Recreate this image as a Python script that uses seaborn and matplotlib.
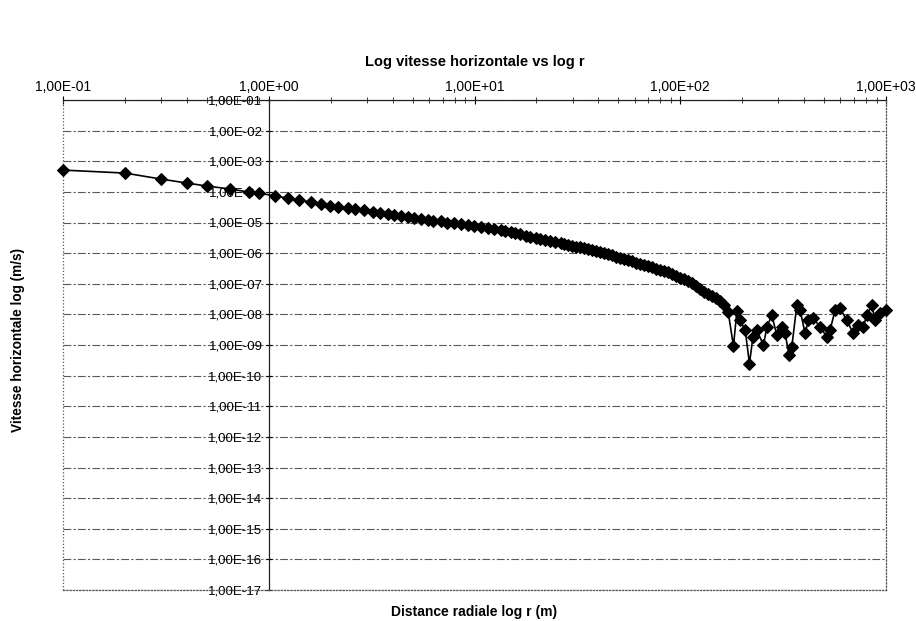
import matplotlib
matplotlib.use("Agg")
import matplotlib.pyplot as plt
import matplotlib.ticker as mticker
import numpy as np
import pandas as pd
import seaborn as sns

# Radial distance (m) and horizontal velocity (m/s)
r_m = [
    0.1, 0.2, 0.3, 0.4, 0.5, 0.65, 0.8, 0.9, 1.07, 1.24, 1.41, 1.60, 1.79, 1.98, 2.16,
    2.42, 2.64, 2.89, 3.20, 3.46, 3.78, 4.04, 4.37, 4.73, 5.06, 5.47, 5.91, 6.32, 6.84,
    7.39, 7.91, 8.55, 9.25, 9.89, 10.7, 11.6, 12.4, 13.4,
    14.1, 15.0, 15.8, 16.7, 17.7, 18.7, 19.8, 20.9, 22.1, 23.4, 24.7, 26.2,
    27.35, 28.60, 29.91, 31.28, 32.71, 34.20, 35.77, 37.40, 39.11, 40.90,
    42.77, 44.72, 46.77, 48.90, 51.14, 53.48, 55.92, 58.48, 61.15, 63.95,
    66.87, 69.93, 73.13, 76.47, 79.96, 83.62, 87.44, 91.43, 95.61, 100.0,
    104.6, 109.3, 114.3, 119.5, 125.0, 130.7, 136.7, 142.9, 149.5, 156.3,
    163.4, 170.9,
    181.4, 188.5, 195.6, 206.8, 217.0, 225.4, 235.7, 253.8, 263.6, 278.7,
    294.7, 311.6, 323.4, 338.1, 348.5, 368.6, 382.4, 404.5, 419.7, 443.7,
    478.2, 515.3, 534.8, 565.5, 598.0, 644.6, 693.9, 733.9, 776.1, 806.1,
    852.4, 884.5, 935.2, 1000.0,
]
v_ms = [
    5.15e-4, 4.11e-4, 2.62e-4, 1.94e-4, 1.55e-4, 1.24e-4, 9.85e-5, 9.14e-5, 7.30e-5,
    6.27e-5, 5.39e-5, 4.64e-5, 3.99e-5, 3.52e-5, 3.26e-5,
    2.93e-5, 2.68e-5, 2.47e-5, 2.24e-5, 2.07e-5, 1.90e-5, 1.79e-5, 1.66e-5, 1.54e-5,
    1.44e-5, 1.33e-5, 1.24e-5, 1.16e-5, 1.08e-5, 1.00e-5, 9.35e-6, 8.67e-6, 8.04e-6,
    7.57e-6, 7.02e-6, 6.51e-6, 6.08e-6, 5.65e-6,
    5.20e-6, 4.79e-6, 4.41e-6, 4.08e-6, 3.76e-6, 3.46e-6, 3.18e-6, 2.93e-6, 2.70e-6,
    2.48e-6, 2.31e-6, 2.12e-6,
    1.98e-6, 1.87e-6, 1.75e-6, 1.63e-6, 1.54e-6, 1.44e-6, 1.34e-6, 1.26e-6, 1.18e-6,
    1.10e-6, 1.01e-6, 9.21e-7, 8.41e-7, 7.68e-7, 7.02e-7, 6.41e-7, 5.86e-7, 5.35e-7,
    4.89e-7, 4.47e-7, 4.08e-7, 3.73e-7, 3.41e-7, 3.11e-7, 2.84e-7, 2.60e-7, 2.38e-7,
    2.07e-7, 1.81e-7, 1.58e-7, 1.38e-7, 1.21e-7, 1.05e-7, 8.47e-8, 6.56e-8, 5.24e-8,
    4.54e-8, 3.93e-8, 3.44e-8, 2.78e-8, 2.04e-8, 1.23e-8,
    9.14e-10, 1.30e-8, 6.46e-9, 3.05e-9, 2.48e-10, 1.76e-9, 3.05e-9, 9.85e-10, 3.91e-9,
    9.41e-9, 2.09e-9, 3.91e-9, 2.38e-9, 4.64e-10, 8.67e-10, 2.00e-8, 1.37e-8, 2.38e-9,
    6.46e-9, 7.35e-9, 3.91e-9, 1.84e-9, 3.05e-9, 1.37e-8, 1.56e-8, 6.46e-9, 2.38e-9,
    4.44e-9, 3.91e-9, 9.41e-9, 2.00e-8, 6.46e-9, 1.07e-8, 1.37e-8,
]

x_decades = [1e-1, 1e0, 1e1, 1e2, 1e3]
y_decades = [1e-17, 1e-16, 1e-15, 1e-14, 1e-13, 1e-12, 1e-11, 1e-10, 1e-9,
             1e-8, 1e-7, 1e-6, 1e-5, 1e-4, 1e-3, 1e-2, 1e-1]

title = "Log vitesse horizontale vs log r"
x_label = "Distance radiale log r (m)"
y_label = "Vitesse horizontale log (m/s)"

sns.set_theme(style="white")
plt.rcParams["font.family"] = ["Liberation Sans", "DejaVu Sans"]

fig = plt.figure(figsize=(9.16, 6.21), dpi=100)
ax = fig.add_axes([63 / 916, 31 / 621, 823 / 916, 490 / 621])

df = pd.DataFrame({"r": r_m, "v": v_ms})
sns.lineplot(data=df, x="r", y="v", ax=ax, color="black", linewidth=1.2,
             marker="D", markersize=6.3, markeredgecolor="black",
             markerfacecolor="black", estimator=None, sort=False,
             zorder=5, clip_on=False)

ax.set_xscale("log")
ax.set_yscale("log")
ax.set_xlim(x_decades[0], x_decades[-1])
ax.set_ylim(y_decades[0], y_decades[-1])


def sci_comma(val, pos):
    return f"{val:.2E}".replace(".", ",")


# x axis along the top, y axis crossing at r = 1
ax.xaxis.tick_top()
ax.xaxis.set_major_locator(mticker.FixedLocator(x_decades))
ax.xaxis.set_minor_locator(mticker.LogLocator(base=10, subs=np.arange(2, 10), numticks=12))
ax.xaxis.set_major_formatter(mticker.FuncFormatter(sci_comma))
ax.xaxis.set_minor_formatter(mticker.NullFormatter())
ax.yaxis.set_major_locator(mticker.FixedLocator(y_decades))
ax.yaxis.set_minor_locator(mticker.NullLocator())
ax.yaxis.set_major_formatter(mticker.FuncFormatter(sci_comma))

ax.spines["left"].set_position(("data", 1.0))
ax.spines["left"].set_color("#222222")
ax.spines["left"].set_linewidth(0.9)
ax.spines["top"].set_color("#222222")
ax.spines["top"].set_linewidth(0.9)
for side in ("right", "bottom"):
    ax.spines[side].set_color("#555555")
    ax.spines[side].set_linewidth(0.9)
    ax.spines[side].set_linestyle((0, (1, 1.6)))
ax.axvline(x_decades[0], color="#555555", linewidth=0.9,
           linestyle=(0, (1, 1.6)), clip_on=False, zorder=3)

ax.tick_params(axis="x", which="major", top=True, bottom=False, direction="inout",
               length=6, width=0.8, pad=1, labelsize=10, colors="black")
ax.tick_params(axis="x", which="minor", top=True, bottom=False, direction="inout",
               length=4, width=0.6, colors="#222222")
ax.tick_params(axis="y", which="major", left=True, right=False, direction="inout",
               length=5, width=0.8, pad=2, labelsize=9.5, colors="black")

ax.yaxis.grid(True, which="major", color="#5a5a5a", linewidth=0.8,
              linestyle=(0, (7, 2, 2, 2)))
ax.xaxis.grid(False)

ax.set_title(title, fontsize=10.5, fontweight="bold", y=(590 - 62) / 490,
             pad=0, va="center", color="black")
ax.set_xlabel(x_label, fontsize=10, fontweight="bold", color="black")
ax.xaxis.set_label_position("bottom")
ax.xaxis.set_label_coords(0.5, -(612 - 590) / 490)
ax.xaxis.label.set_va("center")
ax.set_ylabel(y_label, fontsize=9.8, fontweight="bold", color="black")
ax.yaxis.set_label_coords(-(63 - 18) / 823, (590 - 340) / 490)
ax.yaxis.label.set_va("center")
ax.yaxis.label.set_ha("center")

fig.savefig("out.png", dpi=100)
